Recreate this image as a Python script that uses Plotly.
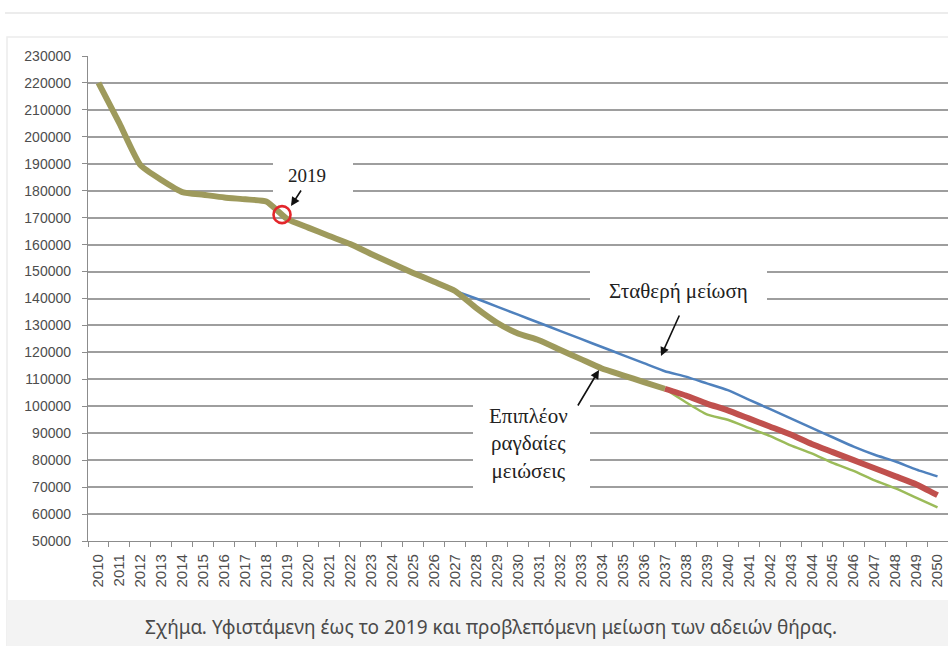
import numpy as np
import plotly.graph_objects as go

# ---- data -------------------------------------------------------------
years = list(range(2010, 2051))

# recorded and projected hunting licences (common path up to 2037)
olive_years = list(range(2010, 2038))
olive_vals = [220000, 205000, 189500, 184000, 179500, 178500, 177500, 176800,
              176000, 169500, 166300, 163200, 160200, 156500, 153000, 149500,
              146200, 142800, 136500, 131000, 127000, 124500, 121000, 117500,
              114000, 111500, 109000, 106500]

# steady reduction scenario
blue_years = list(range(2027, 2051))
blue_vals = [142800, 140000, 137000, 134000, 131000, 128000, 125000, 122000,
             119000, 116000, 113000, 111000, 108500, 106000, 102500, 99000,
             95500, 92000, 88500, 85000, 82000, 79500, 76500, 74000]

# further rapid reductions, two variants
red_years = list(range(2037, 2051))
red_vals = [106500, 104000, 101000, 98500, 95500, 92500, 89500, 86000, 83000,
            80000, 77000, 74000, 71000, 67000]
green_years = list(range(2037, 2051))
green_vals = [106500, 101500, 97000, 95000, 92000, 89000, 85500, 82500, 79000,
              76000, 72500, 69500, 66000, 62500]

y_min, y_max, y_step = 50000, 230000, 10000
caption = "Σχήμα. Υφιστάμενη έως το 2019 και προβλεπόμενη μείωση των αδειών θήρας."

# ---- geometry helpers -------------------------------------------------
W, H = 948, 646
L, R, T, B = 88, 948, 56, 541          # plot area in page pixels
X0, X1 = 2009.5, 2050.5


def px_x(px):
    return X0 + (px - L) / (R - L) * (X1 - X0)


def px_y(py):
    return y_min + (B - py) / (B - T) * (y_max - y_min)


def paper_x(px):
    return (px - L) / (R - L)


def paper_y(py):
    return (B - py) / (B - T)


def curve(color, width):
    return dict(color=color, width=width, shape="spline", smoothing=0.5)


fig = go.Figure()

fig.add_trace(go.Scatter(x=blue_years, y=blue_vals, mode="lines",
                         line=curve("#4f81bd", 2.5), hoverinfo="skip"))
fig.add_trace(go.Scatter(x=green_years, y=green_vals, mode="lines",
                         line=curve("#9bbb59", 2.5), hoverinfo="skip"))
fig.add_trace(go.Scatter(x=red_years, y=red_vals, mode="lines",
                         line=curve("#c0504d", 6), hoverinfo="skip"))
fig.add_trace(go.Scatter(x=olive_years, y=olive_vals, mode="lines",
                         line=curve("#9e9a5c", 6), hoverinfo="skip"))

# highlight ring around the 2019 reading
ring_x = 2018.75
ring_y = float(np.interp(ring_x, olive_years, olive_vals))
fig.add_trace(go.Scatter(x=[ring_x], y=[ring_y], mode="markers",
                         marker=dict(symbol="circle-open", size=17, color="#e3262b",
                                     line=dict(color="#e3262b", width=2.6)),
                         hoverinfo="skip"))

shapes = [
    # thin rule across the top of the page
    dict(type="line", xref="paper", yref="paper",
         x0=paper_x(5), x1=paper_x(960), y0=paper_y(13), y1=paper_y(13),
         line=dict(color="#e6e6e6", width=1.5), layer="below"),
    # frame of the figure
    dict(type="rect", xref="paper", yref="paper",
         x0=paper_x(7), x1=paper_x(960), y0=paper_y(37), y1=paper_y(646),
         fillcolor="#ffffff", line=dict(color="#ececec", width=1.5), layer="below"),
    # caption band
    dict(type="rect", xref="paper", yref="paper",
         x0=paper_x(7), x1=paper_x(960), y0=paper_y(600), y1=paper_y(646),
         fillcolor="#f3f3f3", line=dict(width=0), layer="below"),
]

# white boxes behind the in-chart labels (above grid, below lines)
for (bx0, bx1, by0, by1) in [(273, 353, 150, 198),
                             (590, 767, 260, 309),
                             (473, 590, 393, 500)]:
    shapes.append(dict(type="rect", xref="x", yref="y",
                       x0=px_x(bx0), x1=px_x(bx1), y0=px_y(by1), y1=px_y(by0),
                       fillcolor="#ffffff", line=dict(width=0), layer="between"))

serif = dict(family="Liberation Serif", size=21, color="#222222")
annotations = [
    dict(text="2019", xref="x", yref="y", x=px_x(307), y=px_y(175),
         showarrow=False, font=dict(family="Liberation Serif", size=19, color="#222222")),
    dict(text="Σταθερή μείωση", xref="x", yref="y", x=px_x(678), y=px_y(291),
         showarrow=False, font=serif),
    dict(text="Επιπλέον<br>ραγδαίες<br>μειώσεις", xref="x", yref="y",
         x=px_x(528), y=px_y(443), showarrow=False, font=serif, align="center"),
    # arrows
    dict(text="", xref="x", yref="y", x=px_x(291), y=px_y(206),
         ax=11, ay=-17, showarrow=True, arrowhead=2, arrowsize=1.1,
         arrowwidth=1.6, arrowcolor="#111111"),
    dict(text="", xref="x", yref="y", x=px_x(661), y=px_y(356),
         ax=19, ay=-42, showarrow=True, arrowhead=2, arrowsize=1.1,
         arrowwidth=1.6, arrowcolor="#111111"),
    dict(text="", xref="x", yref="y", x=px_x(599), y=px_y(370),
         ax=-22, ay=37, showarrow=True, arrowhead=2, arrowsize=1.1,
         arrowwidth=1.6, arrowcolor="#111111"),
    # caption
    dict(text=caption, xref="paper", yref="paper", x=paper_x(491), y=paper_y(627),
         xanchor="center", yanchor="middle", showarrow=False,
         font=dict(family="Noto Sans", size=19, color="#4a4a4a")),
]

axis_grey = "#8c8c8c"
tick_font = dict(family="Liberation Sans", size=14, color="#4d4d4d")
fig.update_layout(
    width=W, height=H,
    margin=dict(l=L, r=W - R, t=T, b=H - B, pad=0),
    paper_bgcolor="#ffffff", plot_bgcolor="#ffffff",
    showlegend=False,
    shapes=shapes, annotations=annotations,
    xaxis=dict(range=[X0, X1], tickmode="linear", tick0=2010, dtick=1,
               tickangle=-90, ticks="", showgrid=False, zeroline=False,
               showline=True, linecolor=axis_grey, linewidth=1.3,
               tickfont=dict(family="Liberation Sans", size=15, color="#4d4d4d"),
               minor=dict(ticks="outside", ticklen=5, tickcolor=axis_grey,
                          tick0=2009.5, dtick=1, showgrid=False),
               ticklabelstandoff=6),
    yaxis=dict(range=[y_min, y_max], tickmode="linear", tick0=y_min, dtick=y_step,
               tickformat="d", showgrid=True, gridcolor="#9e9e9e", gridwidth=1.5,
               zeroline=False, showline=True, linecolor=axis_grey, linewidth=1.3,
               ticks="outside", ticklen=5, tickcolor=axis_grey,
               ticklabelstandoff=8, tickfont=tick_font),
)

fig.write_html("out.html")
